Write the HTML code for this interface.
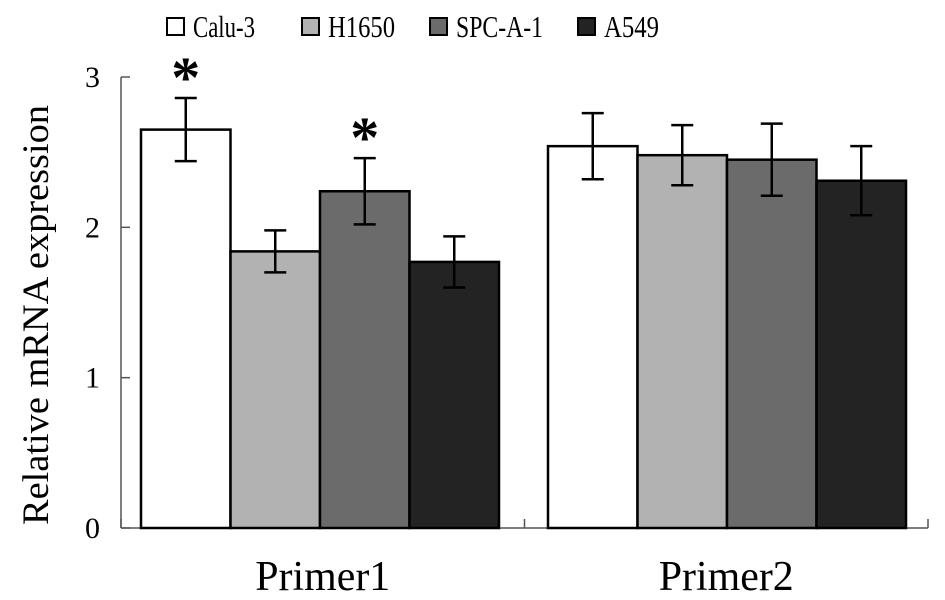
<!DOCTYPE html>
<html><head><meta charset="utf-8"><style>body{margin:0;background:#fff}svg{display:block}text{font-family:"Liberation Serif",serif;fill:#000}</style></head>
<body>
<svg id="chart" width="945" height="600" xmlns="http://www.w3.org/2000/svg"></svg>
<script>
const categories = ["Primer1", "Primer2"];
const seriesNames = ["Calu-3", "H1650", "SPC-A-1", "A549"];
const seriesColors = ["#ffffff", "#b2b2b2", "#6b6b6b", "#232323"];
const primer1Values = [2.65, 1.84, 2.24, 1.77];
const primer1Errors = [0.21, 0.14, 0.22, 0.17];
const primer2Values = [2.54, 2.48, 2.45, 2.31];
const primer2Errors = [0.22, 0.20, 0.24, 0.23];
const primer1Stars = [true, false, true, false];
const yTicks = [0, 1, 2, 3];

const svg = document.getElementById('chart');
const NS = 'http://www.w3.org/2000/svg';
function mk(tag, attrs, parent) {
  const e = document.createElementNS(NS, tag);
  for (const k in attrs) e.setAttribute(k, attrs[k]);
  (parent || svg).appendChild(e);
  return e;
}
const x0 = 121, x1 = 928, yBase = 528, yTop = 77;
const y = v => yBase - v / 3 * (yBase - yTop);
const groupW = (x1 - x0) / categories.length;
const groupStart = [141, 548];
const barW = 89.5;

const yAxis = mk('line', {x1: x0, y1: yTop, x2: x0, y2: yBase, stroke: '#555', 'stroke-width': 1.5});


const xAxis = mk('line', {x1: x0, y1: yBase, x2: x1, y2: yBase, stroke: '#555', 'stroke-width': 1.5});


yTicks.forEach(t => {
  const tk = mk('line', {x1: x0, y1: y(t), x2: x0 + 9, y2: y(t), stroke: '#555', 'stroke-width': 1.5});
  
  
  const tl = mk('text', {x: 100, y: y(t) + 10, 'font-size': 30, 'text-anchor': 'end'});
  tl.textContent = t;
  
  
});
for (let i = 0; i <= categories.length; i++) {
  const xx = x0 + i * groupW;
  const tk = mk('line', {x1: xx, y1: yBase, x2: xx, y2: yBase - 9, stroke: '#555', 'stroke-width': 1.5});
  
  
}
const yt = mk('text', {x: 0, y: 0, 'font-size': 37, 'text-anchor': 'middle', transform: 'translate(48,315) rotate(-90)', textLength: 420, lengthAdjust: 'spacingAndGlyphs'});
yt.textContent = 'Relative mRNA expression';



const vals = [primer1Values, primer2Values], errs = [primer1Errors, primer2Errors];
categories.forEach((c, g) => {
  vals[g].forEach((v, i) => {
    const bx = groupStart[g] + i * barW;
    const r = mk('rect', {x: bx, y: y(v), width: barW, height: yBase - y(v), fill: seriesColors[i], stroke: '#000', 'stroke-width': 2.5});
    
    
    const cx = bx + barW / 2, e = errs[g][i];
    const eb = mk('path', {d: `M${cx},${y(v + e)}V${y(v - e)}M${cx - 11},${y(v + e)}H${cx + 11}M${cx - 11},${y(v - e)}H${cx + 11}`, stroke: '#000', 'stroke-width': 2.5, fill: 'none'});
    
    
    if (g === 0 && primer1Stars[i]) {
      const st = mk('text', {x: cx, y: y(v + e) - 1, 'font-size': 58, 'font-weight': 'bold', 'text-anchor': 'middle', 'font-family': 'Liberation Sans, sans-serif'});
      st.textContent = '*';
      
      
    }
  });
  const cl = mk('text', {x: x0 + groupW * (g + 0.5), y: 590, 'font-size': 42, 'text-anchor': 'middle', textLength: 135, lengthAdjust: 'spacingAndGlyphs'});
  cl.textContent = c;
  
  
});

const legBox = [167, 302, 430, 578];
const legW = [62, 67, 87, 55];
seriesNames.forEach((n, i) => {
  const b = mk('rect', {x: legBox[i], y: 18, width: 17, height: 17, fill: seriesColors[i], stroke: '#000', 'stroke-width': 2});
  
  
  const t = mk('text', {x: legBox[i] + 26, y: 37, 'font-size': 31, textLength: legW[i], lengthAdjust: 'spacingAndGlyphs'});
  t.textContent = n;
  
  
});
</script>
</body></html>
